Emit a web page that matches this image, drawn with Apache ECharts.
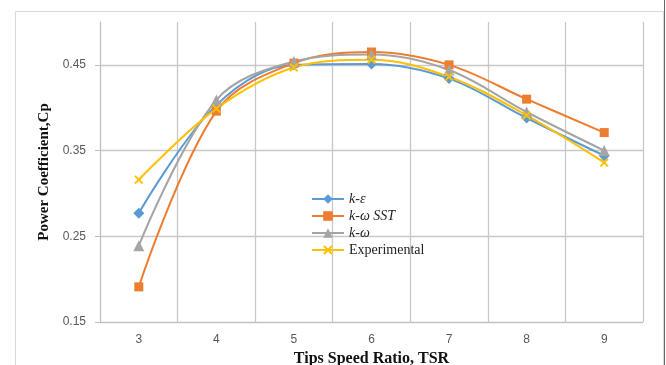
<!DOCTYPE html>
<html>
<head>
<meta charset="utf-8">
<script src="https://cdn.jsdelivr.net/npm/echarts@6/dist/echarts.min.js"></script>
<style>html,body{margin:0;padding:0;background:#fff}#c{width:666px;height:365px}</style>
</head>
<body>
<div id="c"></div>
<script>
var categories = ['3', '4', '5', '6', '7', '8', '9'];
var kEps = [0.277, 0.403, 0.450, 0.451, 0.434, 0.388, 0.344];
var kOmegaSST = [0.191, 0.396, 0.452, 0.465, 0.450, 0.410, 0.371];
var kOmega = [0.239, 0.409, 0.454, 0.462, 0.444, 0.395, 0.350];
var experimental = [0.316, 0.399, 0.447, 0.456, 0.436, 0.391, 0.336];
var yTicks = [0.15, 0.25, 0.35, 0.45];

var xPath = 'path://M0,1.5L1.5,0L5,3.5L8.5,0L10,1.5L6.5,5L10,8.5L8.5,10L5,6.5L1.5,10L0,8.5L3.5,5Z';

function mk(name, data, color, symbol, size) {
  return {
    name: name, type: 'line', data: data, smooth: 0.35,
    symbol: symbol, symbolSize: size, showSymbol: true,
    lineStyle: {color: color, width: 2},
    itemStyle: {color: color},
    z: 3
  };
}

var chart = echarts.init(document.getElementById('c'));
chart.setOption({
  backgroundColor: '#fff',
  animation: false,
  graphic: [
    {type: 'rect', shape: {x: 15.5, y: 11.5, width: 648, height: 400}, style: {fill: 'none', stroke: '#d9d9d9', lineWidth: 1}, z: -10},
    {type: 'line', shape: {x1: 664.5, y1: 0, x2: 664.5, y2: 365}, style: {stroke: '#666', lineWidth: 1}, z: -10}
  ],
  grid: {left: 100, right: 23, top: 22, bottom: 43, containLabel: false, outerBoundsMode: 'none'},
  legend: {
    orient: 'vertical', left: 306, top: 187, itemWidth: 32, itemHeight: 12, itemGap: 3,
    data: ['k-ε', 'k-ω SST', 'k-ω', 'Experimental'],
    formatter: function (n) { return n === 'Experimental' ? '{n|' + n + '}' : '{i|' + n + '}'; },
    textStyle: {
      rich: {
        i: {fontFamily: 'Liberation Serif', fontStyle: 'italic', fontSize: 14, color: '#222'},
        n: {fontFamily: 'Liberation Serif', fontSize: 14, color: '#222'}
      }
    }
  },
  xAxis: {
    type: 'category', data: categories, boundaryGap: true,
    name: 'Tips Speed Ratio, TSR', nameLocation: 'middle', nameGap: 28,
    nameTextStyle: {fontFamily: 'Liberation Serif', fontWeight: 'bold', fontSize: 16, color: '#111'},
    axisLine: {lineStyle: {color: '#bfbfbf'}},
    axisTick: {show: false},
    axisLabel: {color: '#595959', fontSize: 12, fontFamily: 'Liberation Sans', margin: 12},
    splitLine: {show: true, lineStyle: {color: '#c8c8c8', width: 1.3}}
  },
  yAxis: {
    type: 'value', min: 0.15, max: 0.5,
    name: 'Power Coefficient,Cp', nameLocation: 'middle', nameGap: 48, nameRotate: 90,
    nameTextStyle: {fontFamily: 'Liberation Serif', fontWeight: 'bold', fontSize: 15, color: '#111'},
    axisLine: {show: true, lineStyle: {color: '#bfbfbf'}},
    axisTick: {show: true, length: 5, lineStyle: {color: '#bfbfbf'}, customValues: yTicks},
    axisLabel: {color: '#595959', fontSize: 12, fontFamily: 'Liberation Sans', margin: 14, customValues: yTicks,
      formatter: function (v) { return v.toFixed(2); }},
    splitLine: {show: true, lineStyle: {color: '#c8c8c8', width: 1.3}}
  },
  series: [
    mk('k-ε', kEps, '#5B9BD5', 'diamond', 11),
    mk('k-ω SST', kOmegaSST, '#ED7D31', 'rect', 9),
    mk('k-ω', kOmega, '#A5A5A5', 'triangle', 11),
    mk('Experimental', experimental, '#FFC000', xPath, 9)
  ]
});
</script>
</body>
</html>
